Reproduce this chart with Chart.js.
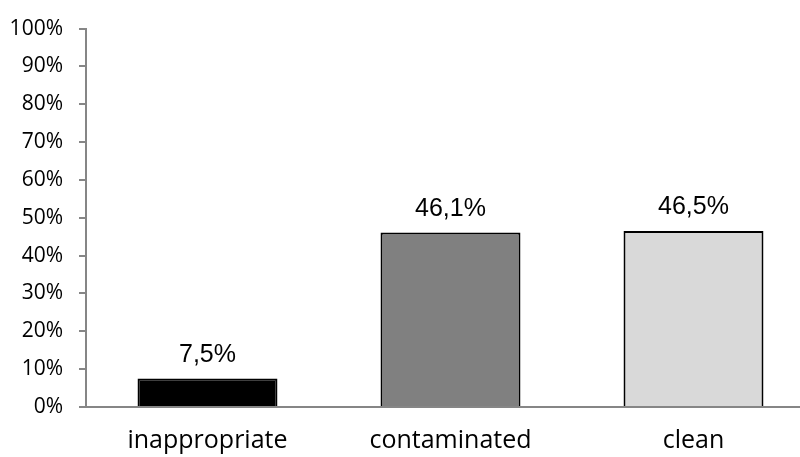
<!DOCTYPE html>
<html>
<head>
<meta charset="utf-8">
<title>Sample classification</title>
<script src="https://cdn.jsdelivr.net/npm/chart.js@4/dist/chart.umd.min.js"></script>
<style>
  html, body { margin: 0; padding: 0; background: #fff; overflow: hidden; }
  #wrap { width: 800px; height: 457px; overflow: hidden; }
</style>
</head>
<body>
<div id="wrap">
  <canvas id="chart" width="830" height="457"></canvas>
</div>
<script>
// Data
const categories = ['inappropriate', 'contaminated', 'clean'];
const shares = [7.5, 46.1, 46.5];
const barColors = ['#000000', '#808080', '#d9d9d9'];
const yTicks = [0, 10, 20, 30, 40, 50, 60, 70, 80, 90, 100];

const axisGray = '#868686';

// Value labels above each bar, decimal comma
const valueLabels = {
    id: 'valueLabels',
    afterDatasetsDraw(chart) {
        const ctx = chart.ctx;
        const meta = chart.getDatasetMeta(0);
        ctx.save();
        ctx.font = '25px "Liberation Sans", Arial, sans-serif';
        ctx.fillStyle = '#000';
        ctx.textAlign = 'center';
        ctx.textBaseline = 'alphabetic';
        meta.data.forEach((bar, i) => {
            const txt = shares[i].toFixed(1).replace('.', ',') + '%';
            ctx.fillText(txt, bar.x, bar.y - 17);
        });
        ctx.restore();
    }
};

new Chart(document.getElementById('chart'), {
    type: 'bar',
    data: {
        labels: categories,
        datasets: [{
            data: shares,
            backgroundColor: barColors,
            borderColor: '#000',
            borderWidth: 2,
            barPercentage: 0.576,
            categoryPercentage: 1
        }]
    },
    options: {
        responsive: false,
        devicePixelRatio: 1,
        animation: false,
        events: [],
        layout: { padding: { top: 24, right: 15, left: 0, bottom: 0 } },
        plugins: {
            legend: { display: false },
            tooltip: { enabled: false }
        },
        scales: {
            x: {
                grid: { display: false, drawTicks: false },
                border: { color: axisGray, width: 2 },
                ticks: {
                    color: '#000',
                    padding: 19,
                    font: { family: '"Open Sans", sans-serif', size: 25 },
                    maxRotation: 0
                },
                afterFit(scale) { scale.height = 50; }
            },
            y: {
                min: 0,
                max: 100,
                afterBuildTicks(scale) {
                    scale.ticks = yTicks.map(v => ({ value: v }));
                },
                grid: {
                    drawOnChartArea: false,
                    drawTicks: true,
                    tickLength: 7,
                    color: axisGray,
                    lineWidth: 2
                },
                border: { color: axisGray, width: 2 },
                ticks: {
                    color: '#000',
                    padding: 16,
                    font: { family: '"Open Sans", sans-serif', size: 21 },
                    callback: v => v + '%'
                },
                afterFit(scale) { scale.width = 86; }
            }
        }
    },
    plugins: [valueLabels]
});
</script>
</body>
</html>
